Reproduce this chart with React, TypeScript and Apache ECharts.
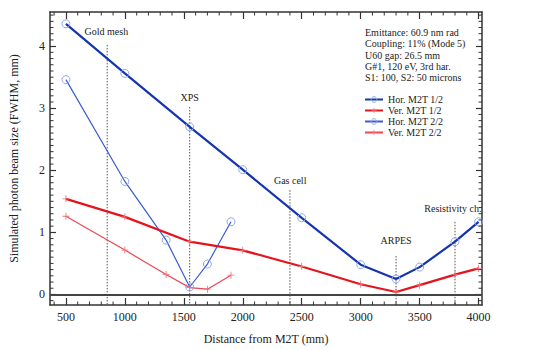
import React, { useEffect, useRef } from "react";
import * as echarts from "echarts";

const horM2T1X = [500, 1000, 1550, 2000, 2500, 3000, 3300, 3500, 3800, 4000];
const horM2T1Y = [4.36, 3.56, 2.7, 2.01, 1.235, 0.48, 0.25, 0.44, 0.85, 1.17];
const verM2T1X = [500, 1000, 1550, 2000, 2500, 3000, 3300, 3500, 3800, 4000];
const verM2T1Y = [1.54, 1.25, 0.85, 0.71, 0.45, 0.165, 0.04, 0.15, 0.32, 0.42];
const horM2T2X = [500, 1000, 1350, 1550, 1700, 1900];
const horM2T2Y = [3.46, 1.82, 0.875, 0.12, 0.49, 1.17];
const verM2T2X = [500, 1000, 1350, 1550, 1700, 1900];
const verM2T2Y = [1.26, 0.715, 0.32, 0.11, 0.085, 0.31];

const stationX = [850, 1550, 2400, 3300, 3800];
const stationTop = [4.02, 3.02, 1.68, 0.62, 1.17];
const stationNames = ["Gold mesh", "XPS", "Gas cell", "ARPES", "Resistivity ch."];
const stationLabelX = [843, 1550, 2402, 3300, 4025];
const stationLabelY = [4.24, 3.17, 1.84, 0.87, 1.39];
const stationLabelAlign = ["center", "center", "center", "center", "right"];

const xTickLabels = [500, 1000, 1500, 2000, 2500, 3000, 3500, 4000];
const xMinorTicks = [400, 600, 700, 800, 900, 1100, 1200, 1300, 1400, 1600, 1700, 1800, 1900, 2100, 2200, 2300, 2400, 2600, 2700, 2800, 2900, 3100, 3200, 3300, 3400, 3600, 3700, 3800, 3900];
const yTickLabels = [0, 1, 2, 3, 4];
const yMinorTicks = [-0.1, 0.1, 0.2, 0.3, 0.4, 0.5, 0.6, 0.7, 0.8, 0.9, 1.1, 1.2, 1.3, 1.4, 1.5, 1.6, 1.7, 1.8, 1.9, 2.1, 2.2, 2.3, 2.4, 2.5, 2.6, 2.7, 2.8, 2.9, 3.1, 3.2, 3.3, 3.4, 3.5, 3.6, 3.7, 3.8, 3.9, 4.1, 4.2, 4.3, 4.4, 4.5];

const infoLines = [
  "Emittance: 60.9 nm rad",
  "Coupling: 11% (Mode 5)",
  "U60 gap: 26.5 mm",
  "G#1, 120 eV, 3rd har.",
  "S1: 100, S2: 50 microns",
];

const X_MIN = 365;
const X_MAX = 4029;
const Y_MIN = -0.17;
const Y_MAX = 4.55;

const FONT = "Liberation Serif";
const FRAME = "#333333";
const PLUS = "path://M-0.12,-1H0.12V-0.12H1V0.12H0.12V1H-0.12V0.12H-1V-0.12H-0.12Z";
const CIRCLE_EDGE = "#8ea8ec";
const CLEAR = "rgba(255,255,255,0)";

const zip = (xs: number[], ys: number[]) => xs.map((x, i) => [x, ys[i]]);

export default function App() {
  const ref = useRef<HTMLDivElement>(null);
  useEffect(() => {
    if (!ref.current) return;
    const chart = echarts.init(ref.current, undefined, { renderer: "svg" });

    const xAxisBase = { type: "value", min: X_MIN, max: X_MAX, splitLine: { show: false } };
    const yAxisBase = { type: "value", min: Y_MIN, max: Y_MAX, splitLine: { show: false } };

    const xAxes: any[] = [
      {
        ...xAxisBase,
        position: "bottom",
        axisLine: { show: true, onZero: false, lineStyle: { color: FRAME, width: 1.5 } },
        axisTick: { show: true, inside: true, length: 7, customValues: xTickLabels, lineStyle: { color: FRAME, width: 1.2 } },
        axisLabel: { show: true, customValues: xTickLabels, margin: 6, color: "#222", fontFamily: FONT, fontSize: 12, formatter: (v: number) => String(v) },
        name: "Distance from M2T (mm)",
        nameLocation: "middle",
        nameGap: 28,
        nameTextStyle: { color: "#222", fontFamily: FONT, fontSize: 12 },
      },
      {
        ...xAxisBase,
        position: "top",
        axisLine: { show: true, onZero: false, lineStyle: { color: FRAME, width: 1.5 } },
        axisTick: { show: true, inside: true, length: 7, customValues: xTickLabels, lineStyle: { color: FRAME, width: 1.2 } },
        axisLabel: { show: false },
      },
    ];

    const yAxes: any[] = [
      {
        ...yAxisBase,
        position: "left",
        axisLine: { show: true, onZero: false, lineStyle: { color: FRAME, width: 1.5 } },
        axisTick: { show: true, inside: true, length: 6, customValues: yTickLabels, lineStyle: { color: FRAME, width: 1.2 } },
        axisLabel: { show: true, customValues: yTickLabels, margin: 5, color: "#222", fontFamily: FONT, fontSize: 12, formatter: (v: number) => String(v) },
        name: "Simulated photon beam size (FWHM, mm)",
        nameLocation: "middle",
        nameGap: 30,
        nameTextStyle: { color: "#222", fontFamily: FONT, fontSize: 12 },
      },
      {
        ...yAxisBase,
        position: "right",
        axisLine: { show: true, onZero: false, lineStyle: { color: FRAME, width: 1.5 } },
        axisTick: { show: true, inside: true, length: 6, customValues: yTickLabels, lineStyle: { color: FRAME, width: 1.2 } },
        axisLabel: { show: false },
      },
    ];

    const stationLines = stationX.map((x, i) => [x, stationTop[i]]);
    const stationLabels = stationNames.map((n, i) => [stationLabelX[i], stationLabelY[i], n, stationLabelAlign[i]]);
    const tickStyle = { stroke: FRAME, lineWidth: 1 };
    const MINOR = 3.5;

    chart.setOption({
      animation: false,
      backgroundColor: "#ffffff",
      grid: { left: 47, right: 57, top: 12, bottom: 42, containLabel: false },
      xAxis: xAxes,
      yAxis: yAxes,
      legend: {
        orient: "vertical",
        left: 364,
        top: 94,
        itemWidth: 18,
        itemHeight: 7,
        itemGap: 0,
        padding: 0,
        textStyle: { color: "#222", fontFamily: FONT, fontSize: 10, lineHeight: 11 },
        data: [
          { name: "Hor. M2T 1/2", itemStyle: { color: CLEAR, borderColor: CIRCLE_EDGE, borderWidth: 1 } },
          { name: "Ver. M2T 1/2" },
          { name: "Hor. M2T 2/2", itemStyle: { color: CLEAR, borderColor: CIRCLE_EDGE, borderWidth: 1 } },
          { name: "Ver. M2T 2/2" },
        ],
      },
      graphic: [
        {
          type: "text",
          left: 365,
          top: 27,
          style: {
            text: infoLines.join("\n"),
            font: `10px "${FONT}"`,
            lineHeight: 11.3,
            fill: "#222",
          },
        },
      ],
      series: [
        {
          type: "custom",
          name: "xMinor",
          silent: true,
          renderItem: (params: any, api: any) => {
            const cs = params.coordSys;
            const p = api.coord([api.value(0), Y_MIN]);
            const top = cs.y;
            const bottom = cs.y + cs.height;
            return {
              type: "group",
              children: [
                { type: "line", shape: { x1: p[0], y1: bottom, x2: p[0], y2: bottom - MINOR }, style: tickStyle },
                { type: "line", shape: { x1: p[0], y1: top, x2: p[0], y2: top + MINOR }, style: tickStyle },
              ],
            };
          },
          data: xMinorTicks.map((v) => [v, Y_MIN]),
          z: 6,
        },
        {
          type: "custom",
          name: "yMinor",
          silent: true,
          renderItem: (params: any, api: any) => {
            const cs = params.coordSys;
            const p = api.coord([X_MIN, api.value(1)]);
            const left = cs.x;
            const right = cs.x + cs.width;
            return {
              type: "group",
              children: [
                { type: "line", shape: { x1: left, y1: p[1], x2: left + MINOR, y2: p[1] }, style: tickStyle },
                { type: "line", shape: { x1: right, y1: p[1], x2: right - MINOR, y2: p[1] }, style: tickStyle },
              ],
            };
          },
          data: yMinorTicks.map((v) => [X_MIN, v]),
          z: 6,
        },
        {
          type: "custom",
          name: "stations",
          silent: true,
          renderItem: (params: any, api: any) => {
            const top = api.coord([api.value(0), api.value(1)]);
            const bottom = api.coord([api.value(0), Y_MIN]);
            return {
              type: "line",
              shape: { x1: top[0], y1: top[1], x2: bottom[0], y2: bottom[1] },
              style: { stroke: "#555", lineWidth: 1, lineDash: [1.5, 1.5] },
            };
          },
          data: stationLines,
          z: 1,
        },
        {
          type: "custom",
          name: "stationLabels",
          silent: true,
          renderItem: (params: any, api: any) => {
            const i = params.dataIndex;
            const p = api.coord([stationLabels[i][0], stationLabels[i][1]]);
            return {
              type: "text",
              x: p[0],
              y: p[1],
              style: {
                text: stationLabels[i][2],
                font: `10px "${FONT}"`,
                fill: "#222",
                align: stationLabels[i][3],
                verticalAlign: "middle",
              },
            };
          },
          data: stationLabels.map((d) => [d[0], d[1]]),
          z: 5,
        },
        {
          type: "line",
          name: "zero",
          silent: true,
          data: [],
          markLine: {
            silent: true,
            symbol: "none",
            label: { show: false },
            lineStyle: { color: "#444", width: 2, type: "solid" },
            data: [{ yAxis: 0 }],
          },
        },
        {
          type: "line",
          name: "Hor. M2T 2/2",
          data: zip(horM2T2X, horM2T2Y),
          lineStyle: { color: "#3a5cd0", width: 1.2 },
          itemStyle: { color: CLEAR, borderColor: CIRCLE_EDGE, borderWidth: 1 },
          symbol: "circle",
          symbolSize: 8,
          z: 3,
        },
        {
          type: "line",
          name: "Ver. M2T 2/2",
          data: zip(verM2T2X, verM2T2Y),
          lineStyle: { color: "#ec4651", width: 1.2 },
          itemStyle: { color: "#f07078" },
          symbol: PLUS,
          symbolSize: 7,
          z: 3,
        },
        {
          type: "line",
          name: "Ver. M2T 1/2",
          data: zip(verM2T1X, verM2T1Y),
          lineStyle: { color: "#e3141c", width: 2.2 },
          itemStyle: { color: "#f07078" },
          symbol: PLUS,
          symbolSize: 7,
          z: 4,
        },
        {
          type: "line",
          name: "Hor. M2T 1/2",
          data: zip(horM2T1X, horM2T1Y),
          lineStyle: { color: "#1434b0", width: 2.2 },
          itemStyle: { color: CLEAR, borderColor: CIRCLE_EDGE, borderWidth: 1 },
          symbol: "circle",
          symbolSize: 8,
          z: 4,
        },
      ],
    });
    return () => chart.dispose();
  }, []);
  return <div ref={ref} style={{ width: 539, height: 350, position: "absolute", left: 0, top: 0 }} />;
}
